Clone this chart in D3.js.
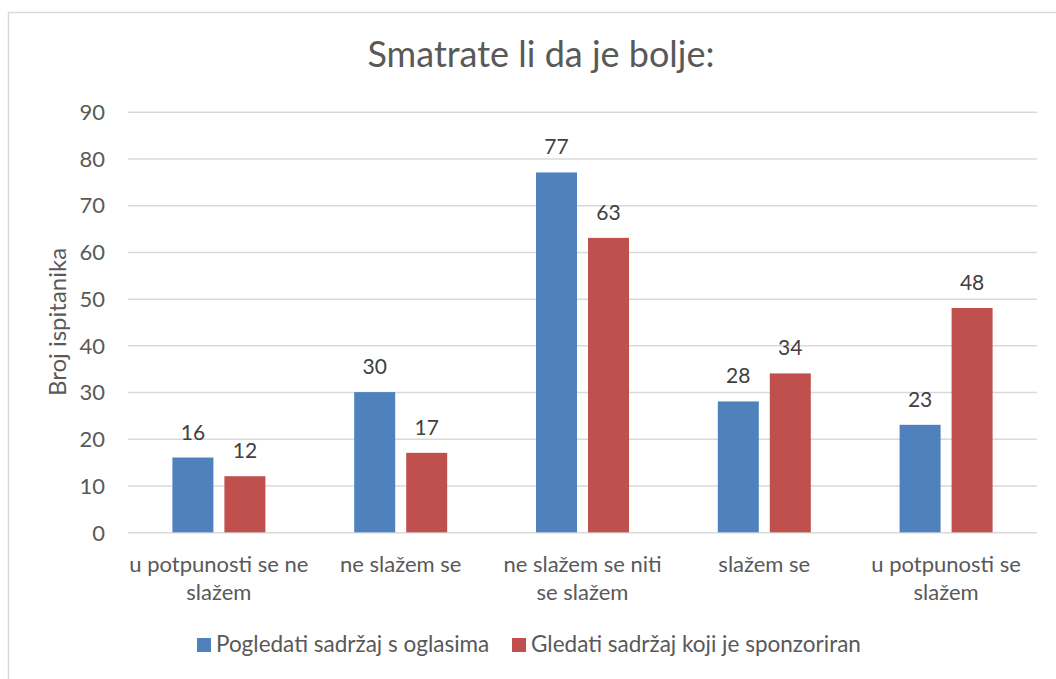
<!DOCTYPE html>
<html><head><meta charset="utf-8">
<script src="https://cdn.jsdelivr.net/npm/d3@7"></script>
<style>body{margin:0;background:#fff}svg{display:block}text{font-family:Lato,"Open Sans",sans-serif}</style>
</head><body>
<svg id="c" width="1056" height="679"></svg>
<script>
const categories = [["u potpunosti se ne","slažem"],["ne slažem se"],["ne slažem se niti","se slažem"],["slažem se"],["u potpunosti se","slažem"]];
const seriesNames = ["Pogledati sadržaj s oglasima","Gledati sadržaj koji je sponzoriran"];
const seriesA = [16,30,77,28,23];
const seriesB = [12,17,63,34,48];
const yTicks = [0,10,20,30,40,50,60,70,80,90];
const colors = ["#4F81BD","#C0504D"];

const svg = d3.select("#c");
svg.append("rect").attr("x",8.5).attr("y",12.5).attr("width",1100).attr("height",700)
  .attr("fill","#fff").attr("stroke","#d9d9d9").attr("stroke-width",1.5);

const L=128,R=1037,T=111.7,B=532.3;
const x = d3.scaleBand().domain(d3.range(categories.length)).range([L,R]).paddingInner(0).paddingOuter(0);
const y = d3.scaleLinear().domain([0,90]).range([B,T]);
const bw = 41, gap = 11;

const yAxis = d3.axisLeft(y).tickValues(yTicks).tickSize(-(R-L)).tickPadding(23);
const ga = svg.append("g").attr("transform",`translate(${L},0)`).call(yAxis);
ga.select(".domain").remove();
ga.selectAll("line").attr("stroke","#d9d9d9").attr("stroke-width",1.5);
ga.selectAll("text").attr("fill","#595959").style("font-size","22px").attr("dy","0.35em");

const data = [seriesA, seriesB];
data.forEach((vals,si)=>{
  const g = svg.append("g");
  vals.forEach((v,i)=>{
    const cx = x(i)+x.bandwidth()/2;
    const bx = si===0 ? cx - gap/2 - bw : cx + gap/2;
    g.append("rect").attr("x",bx).attr("y",y(v)).attr("width",bw).attr("height",y(0)-y(v)).attr("fill",colors[si]);
    g.append("text").attr("x",bx+bw/2).attr("y",y(v)-18).attr("text-anchor","middle")
      .attr("fill","#404040").style("font-size","21px").text(v);
  });
});

categories.forEach((lines,i)=>{
  const cx = x(i)+x.bandwidth()/2;
  const t = svg.append("text").attr("text-anchor","middle").attr("fill","#595959").style("font-size","22px");
  lines.forEach((ln,j)=>t.append("tspan").attr("x",cx).attr("y",572+j*28).text(ln));
});

svg.append("text").attr("x",541).attr("y",67).attr("text-anchor","middle").attr("fill","#595959")
  .style("font-size","36px").text("Smatrate li da je bolje:");

svg.append("text").attr("transform",`translate(66,322) rotate(-90)`).attr("text-anchor","middle")
  .attr("fill","#595959").style("font-size","24px").text("Broj ispitanika");

const legX = [197,512];
seriesNames.forEach((n,i)=>{
  svg.append("rect").attr("x",legX[i]).attr("y",638).attr("width",14).attr("height",14).attr("fill",colors[i]);
  svg.append("text").attr("x",legX[i]+19).attr("y",652).attr("fill","#595959").style("font-size","22.5px").text(n);
});
</script>
</body></html>
